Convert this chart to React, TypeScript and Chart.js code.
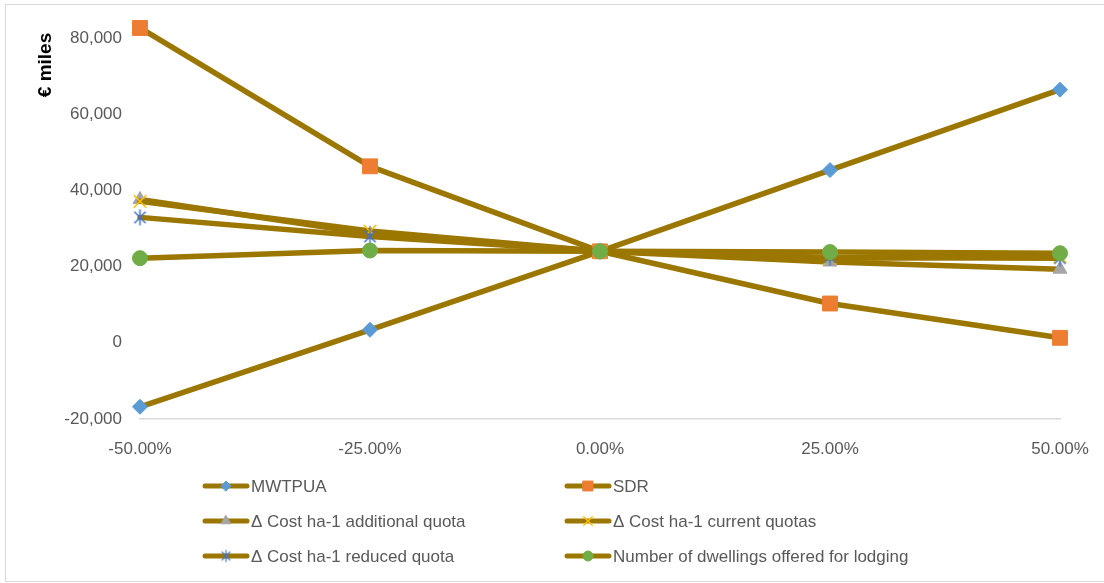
import React, { useEffect, useRef } from "react";
import { Chart, registerables } from "chart.js";
import { drawPoint } from "chart.js/helpers";

Chart.register(...registerables);

// Percentage change applied to each parameter
const changes = ["-50.00%", "-25.00%", "0.00%", "25.00%", "50.00%"];

// Resulting values (€ miles) for each parameter
const mwtpua = [-16800, 3400, 24000, 45300, 66400];
const sdr = [82600, 46300, 24000, 10300, 1300];
const costAdditional = [37600, 28600, 24000, 21200, 19300];
const costCurrent = [37100, 29300, 24000, 22200, 22600];
const costReduced = [32900, 27900, 24000, 22400, 22200];
const dwellings = [22200, 24200, 24000, 23800, 23500];

const seriesLabels = [
  "MWTPUA",
  "SDR",
  "Δ Cost ha-1 additional quota",
  "Δ Cost ha-1 current quotas",
  "Δ Cost ha-1 reduced quota",
  "Number of dwellings offered for lodging",
];

const yTicks = [-20000, 0, 20000, 40000, 60000, 80000];

const LINE = "#9B7700";
const FONT = "'Liberation Sans', Arial, sans-serif";

// Six-armed asterisk marker (vertical bar plus an X)
function makeAsterisk(r: number, color: string, lw: number) {
  const c = document.createElement("canvas");
  const s = Math.ceil(r * 2 + lw * 2);
  c.width = s;
  c.height = s;
  const g = c.getContext("2d")!;
  const m = s / 2;
  g.strokeStyle = color;
  g.lineWidth = lw;
  g.beginPath();
  g.moveTo(m, m - r);
  g.lineTo(m, m + r);
  const d = r * Math.SQRT1_2;
  g.moveTo(m - d, m - d);
  g.lineTo(m + d, m + d);
  g.moveTo(m - d, m + d);
  g.lineTo(m + d, m - d);
  g.stroke();
  return c;
}

export default function App() {
  const ref = useRef<HTMLCanvasElement | null>(null);

  useEffect(() => {
    if (!ref.current) return;

    const asteriskBig = makeAsterisk(8, "#4472C4", 1.5);
    const asteriskSmall = makeAsterisk(6, "#4472C4", 1.2);

    const markers = [
      { style: "rectRot", color: "#5B9BD5", r: 7.5, lr: 5, bw: 1 },
      { style: "rect", color: "#ED7D31", r: 10.5, lr: 7, bw: 1 },
      { style: "triangle", color: "#A5A5A5", r: 8, lr: 5.5, bw: 1 },
      { style: "crossRot", color: "#FFC000", r: 9, lr: 6, bw: 1.5 },
      { style: asteriskBig, color: "#4472C4", r: 8, lr: 6, bw: 1.5, small: asteriskSmall },
      { style: "circle", color: "#70AD47", r: 7.5, lr: 5, bw: 1 },
    ] as any[];

    const values = [mwtpua, sdr, costAdditional, costCurrent, costReduced, dwellings];

    const frame = {
      id: "frame",
      beforeDraw(chart: any) {
        const ctx = chart.ctx;
        ctx.save();
        ctx.fillStyle = "#ffffff";
        ctx.fillRect(0, 0, chart.width, chart.height);
        ctx.strokeStyle = "#D9D9D9";
        ctx.lineWidth = 1;
        ctx.strokeRect(5.5, 4.5, chart.width + 10, chart.height - 6);
        ctx.restore();
      },
    };

    const yTitle = {
      id: "yTitle",
      afterDraw(chart: any) {
        const ctx = chart.ctx;
        ctx.save();
        ctx.translate(46, chart.chartArea.top + 50);
        ctx.rotate(-Math.PI / 2);
        ctx.font = `bold 19px ${FONT}`;
        ctx.fillStyle = "#000000";
        ctx.textAlign = "center";
        ctx.textBaseline = "middle";
        ctx.fillText("€ miles", 0, 0);
        ctx.restore();
      },
    };

    const legend = {
      id: "gridLegend",
      afterDraw(chart: any) {
        const ctx = chart.ctx;
        const colX = [203, 565];
        const rowY = [486, 521, 556];
        chart.data.datasets.forEach((ds: any, i: number) => {
          const x = colX[i % 2];
          const y = rowY[Math.floor(i / 2)];
          const mk = markers[i];
          ctx.save();
          ctx.strokeStyle = LINE;
          ctx.lineWidth = 5;
          ctx.lineCap = "round";
          ctx.beginPath();
          ctx.moveTo(x + 2, y);
          ctx.lineTo(x + 44, y);
          ctx.stroke();
          ctx.fillStyle = mk.color;
          ctx.strokeStyle = mk.color;
          ctx.lineWidth = mk.bw;
          drawPoint(ctx, { pointStyle: mk.small || mk.style, radius: mk.lr, borderWidth: mk.bw, rotation: 0 } as any, x + 23, y);
          ctx.font = `17px ${FONT}`;
          ctx.fillStyle = "#595959";
          ctx.textAlign = "left";
          ctx.textBaseline = "middle";
          ctx.fillText(ds.label, x + 48, y + 1);
          ctx.restore();
        });
      },
    };

    const chart = new Chart(ref.current, {
      type: "line",
      data: {
        labels: changes,
        datasets: values.map((v, i) => ({
          label: seriesLabels[i],
          data: v,
          borderColor: LINE,
          backgroundColor: markers[i].color,
          borderWidth: 5.5,
          borderCapStyle: "round",
          borderJoinStyle: "round",
          pointStyle: markers[i].style,
          pointRadius: markers[i].r,
          pointBackgroundColor: markers[i].color,
          pointBorderColor: markers[i].color,
          pointBorderWidth: markers[i].bw,
          tension: 0,
          order: 5 - i,
        })),
      },
      options: {
        animation: false,
        responsive: false,
        events: [],
        layout: { padding: { top: 15, right: 44, left: 0, bottom: 0 } },
        plugins: {
          legend: { display: false },
          tooltip: { enabled: false },
        },
        scales: {
          x: {
            type: "category",
            offset: false,
            grid: { display: false },
            border: { display: true, color: "#D9D9D9", width: 1.5 },
            ticks: {
              padding: 12,
              color: "#595959",
              font: { family: FONT, size: 17 },
              maxRotation: 0,
              autoSkip: false,
            },
            afterFit: (s: any) => {
              s.height = 164;
              s.paddingLeft = 0;
              s.paddingRight = 0;
            },
          },
          y: {
            min: -20000,
            max: 86000,
            grid: { display: false },
            border: { display: false },
            afterBuildTicks: (s: any) => {
              s.ticks = yTicks.map((value) => ({ value }));
            },
            ticks: {
              padding: 10,
              color: "#595959",
              font: { family: FONT, size: 17 },
              callback: (v: any) => Number(v).toLocaleString("en-US"),
            },
            afterFit: (s: any) => {
              s.width = 140;
              s.paddingTop = 0;
              s.paddingBottom = 0;
            },
          },
        },
      } as any,
      plugins: [frame, yTitle, legend],
    });

    return () => chart.destroy();
  }, []);

  return (
    <div style={{ position: "absolute", left: 0, top: 0, width: 1104, height: 583, background: "#fff" }}>
      <canvas ref={ref} width={1104} height={583} style={{ display: "block" }} />
    </div>
  );
}
